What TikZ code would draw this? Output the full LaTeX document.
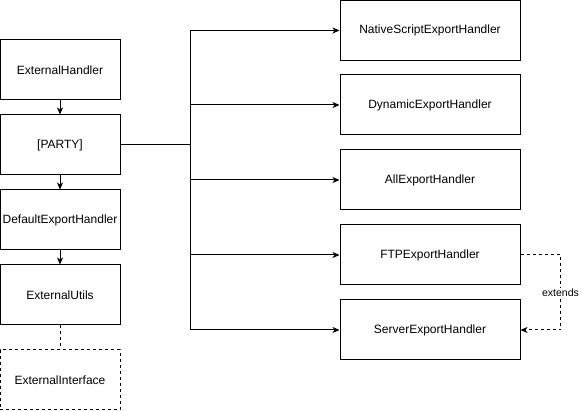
\documentclass[tikz,border=0pt]{standalone}
\usepackage{fontspec}
\setmainfont{Liberation Sans}
\usetikzlibrary{arrows.meta}
\begin{document}
\begin{tikzpicture}[x=1pt,y=-1pt,
  box/.style={draw,line width=1pt,minimum width=120pt,minimum height=60pt,inner sep=0pt,font=\fontsize{12}{14}\selectfont},
  rbox/.style={box,minimum width=180pt},
  conn/.style={line width=1pt,-{Stealth[length=7pt,width=6pt,inset=2pt]}},
  line/.style={line width=1pt}]
\useasboundingbox (0,0) rectangle (582,411);
\fill[white] (0,0) rectangle (582,411);
\node[box] (eh) at (60,70) {ExternalHandler};
\node[box] (party) at (60,145) {[PARTY]};
\node[box] (deh) at (60,220) {DefaultExportHandler};
\node[box] (eu) at (60,295) {ExternalUtils};
\node[box,dashed] (ei) at (60,380) {ExternalInterface};
\node[rbox] (ns) at (430,30.5) {NativeScriptExportHandler};
\node[rbox] (dyn) at (430,105) {DynamicExportHandler};
\node[rbox] (all) at (430,180) {AllExportHandler};
\node[rbox] (ftp) at (430,255) {FTPExportHandler};
\node[rbox] (srv) at (430,330) {ServerExportHandler};
\draw[conn] (eh) -- (party);
\draw[conn] (party) -- (deh);
\draw[conn] (deh) -- (eu);
\draw[line,dashed] (eu) -- (ei);
\coordinate (j) at (190,145);
\draw[line] (party.east) -- (j);
\draw[conn] (j) |- (ns.west);
\draw[conn] (j) |- (dyn.west);
\draw[conn] (j) |- (all.west);
\draw[conn] (j) |- (ftp.west);
\draw[conn] (j) |- (srv.west);
\draw[conn,dashed] (ftp.east) -- ++(40,0) |- node[pos=0.25,fill=white,inner sep=1pt,font=\fontsize{10.5}{12}\selectfont]{extends} (srv.east);
\end{tikzpicture}
\end{document}
